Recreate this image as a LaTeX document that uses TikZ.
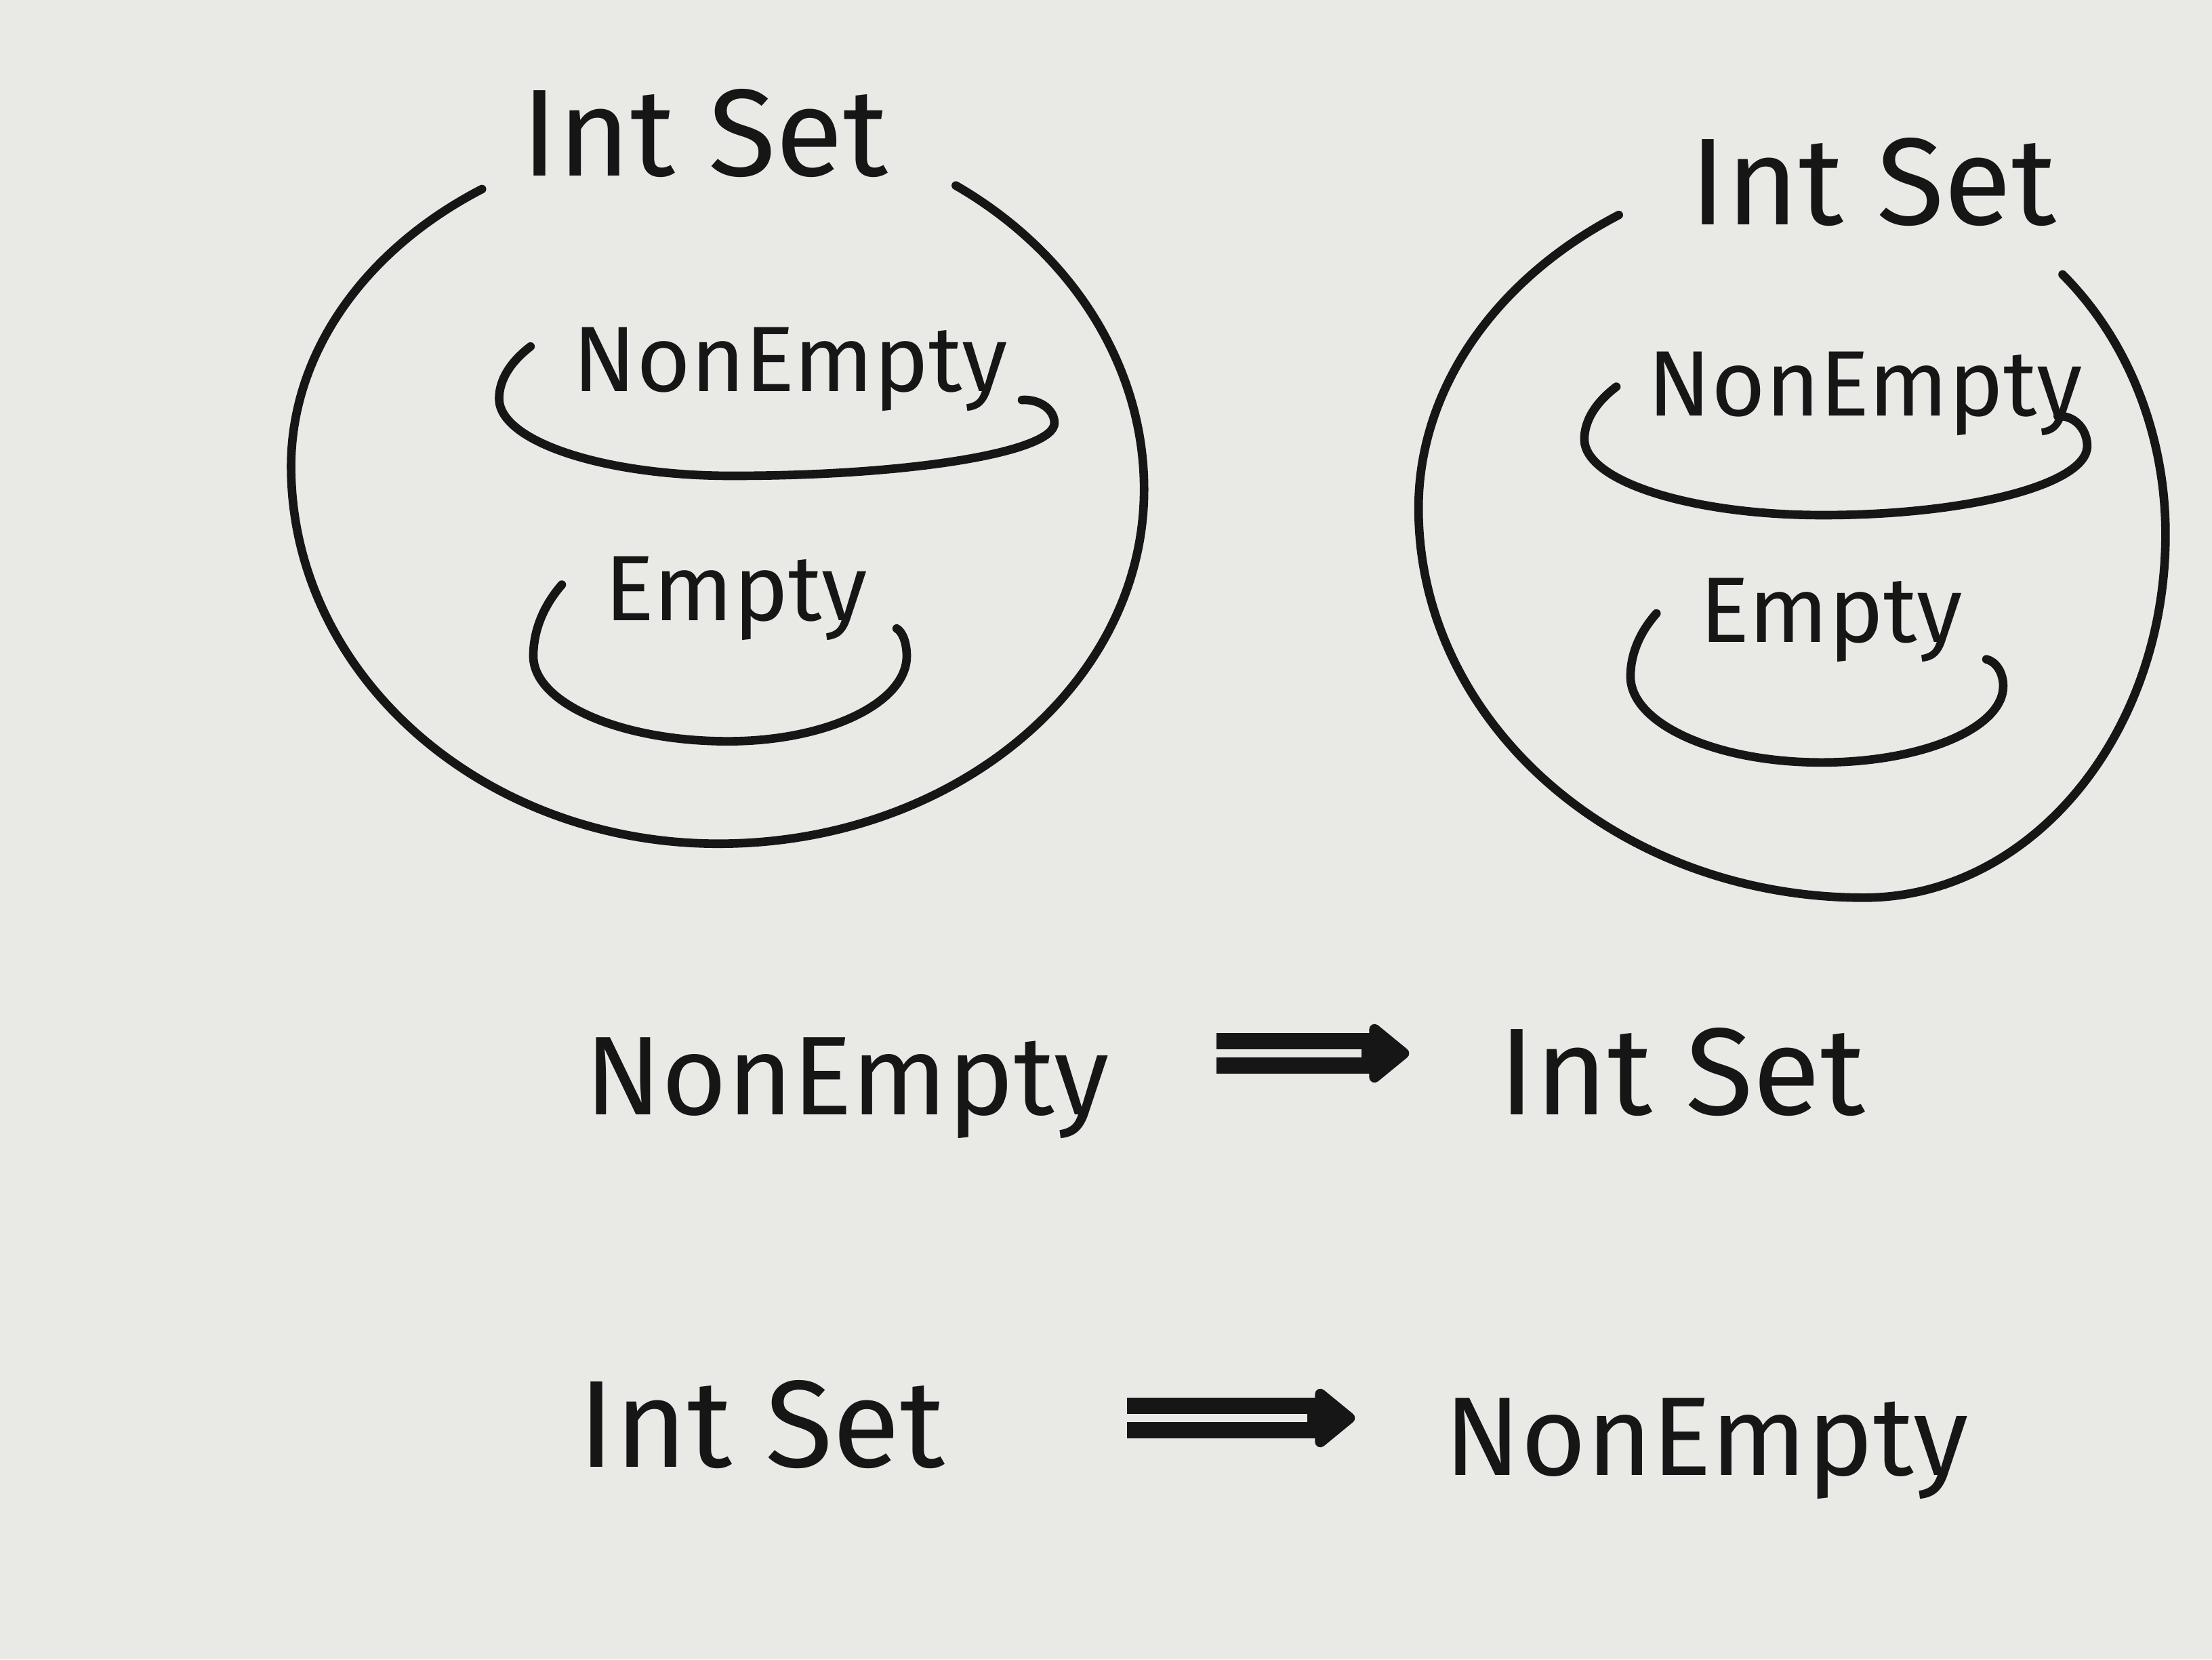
\documentclass[tikz,border=0pt]{standalone}
\usepackage{fontspec}
\setmainfont{Fira Sans}
\usetikzlibrary{arrows.meta}
\definecolor{paper}{RGB}{233,233,230}
\definecolor{ink}{RGB}{22,22,22}
\tikzset{
  setname/.style={font=\fontsize{26}{30}\selectfont, inner sep=1pt, anchor=base},
  subname/.style={font=\fontsize{19.5}{23}\selectfont, inner sep=1pt, anchor=base},
  rowname/.style={font=\fontsize{23.5}{28}\selectfont, inner sep=1pt, anchor=base},
  ring/.style={line width=1.8pt, line cap=round},
  implies/.style n args={4}{line width=8.6pt, shorten <=#1, shorten >=#2,
    -{Triangle[round, length=0.32cm, width=0.5cm]},
    postaction={draw=paper, line width=1.7pt, -, shorten <=#3, shorten >=#4}},
}
\begin{document}
\begin{tikzpicture}[color=ink]
  \fill[paper] (0,0) rectangle (16.32,12.24);
  \useasboundingbox (0,0) rectangle (16.32,12.24);
  \node[setname] (top1) at (5.20,10.94) {Int Set};
  \draw[ring] (3.556,10.845) arc[start angle=123.6, end angle=180, x radius=3.153, y radius=2.455]
    arc[start angle=180, end angle=270, x radius=3.153, y radius=2.784]
    arc[start angle=270, end angle=360, x radius=3.14, y radius=2.614]
    arc[start angle=0, end angle=56.1, x radius=3.14, y radius=2.70];
  \node[subname] (ne1) at (5.83,9.35) {NonEmpty};
  \draw[ring] (3.914,9.684) arc[start angle=149.9, end angle=180, x radius=1.717, y radius=0.766]
    arc[start angle=180, end angle=270, x radius=1.717, y radius=0.57]
    arc[start angle=270, end angle=360, x radius=2.38, y radius=0.39]
    arc[start angle=0, end angle=95, x radius=0.22, y radius=0.17];
  \node[subname] (em1) at (5.43,7.66) {Empty};
  \draw[ring] (4.145,7.927) arc[start angle=148.6, end angle=180, x radius=1.435, y radius=1.01]
    arc[start angle=180, end angle=270, x radius=1.435, y radius=0.629]
    arc[start angle=270, end angle=360, x radius=1.32, y radius=0.629]
    arc[start angle=0, end angle=75, x radius=0.1, y radius=0.21];
  \node[setname] (top2) at (13.82,10.58) {Int Set};
  \draw[ring] (11.943,10.654) arc[start angle=123.4, end angle=180, x radius=3.286, y radius=2.592]
    arc[start angle=180, end angle=270, x radius=3.286, y radius=2.872]
    arc[start angle=270, end angle=360, x radius=2.225, y radius=2.682]
    arc[start angle=0, end angle=48.8, x radius=2.225, y radius=2.545];
  \node[subname] (ne2) at (13.76,9.17) {NonEmpty};
  \draw[ring] (11.925,9.387) arc[start angle=150, end angle=180, x radius=1.76, y radius=0.774]
    arc[start angle=180, end angle=270, x radius=1.76, y radius=0.56]
    arc[start angle=270, end angle=360, x radius=1.95, y radius=0.51]
    arc[start angle=0, end angle=95, x radius=0.2, y radius=0.22];
  \node[subname] (em2) at (13.51,7.50) {Empty};
  \draw[ring] (12.221,7.715) arc[start angle=149.8, end angle=180, x radius=1.41, y radius=0.925]
    arc[start angle=180, end angle=270, x radius=1.41, y radius=0.634]
    arc[start angle=270, end angle=360, x radius=1.34, y radius=0.564]
    arc[start angle=0, end angle=80, x radius=0.15, y radius=0.2];
  \node[rowname] (ne3) at (6.25,4.02) {NonEmpty};
  \node[setname] (is3) at (12.41,4.02) {Int Set};
  \draw[implies={0.75cm}{0.62cm}{0.68cm}{0.97cm}] ([yshift=0.45cm]ne3.base east) -- ([yshift=0.45cm]ne3.base east -| is3.west);
  \node[setname] (is4) at (5.62,1.42) {Int Set};
  \node[rowname] (ne4) at (12.59,1.36) {NonEmpty};
  \draw[implies={1.3cm}{0.62cm}{1.23cm}{0.97cm}] ([yshift=0.36cm]is4.base east) -- ([yshift=0.36cm]is4.base east -| ne4.west);
\end{tikzpicture}
\end{document}
